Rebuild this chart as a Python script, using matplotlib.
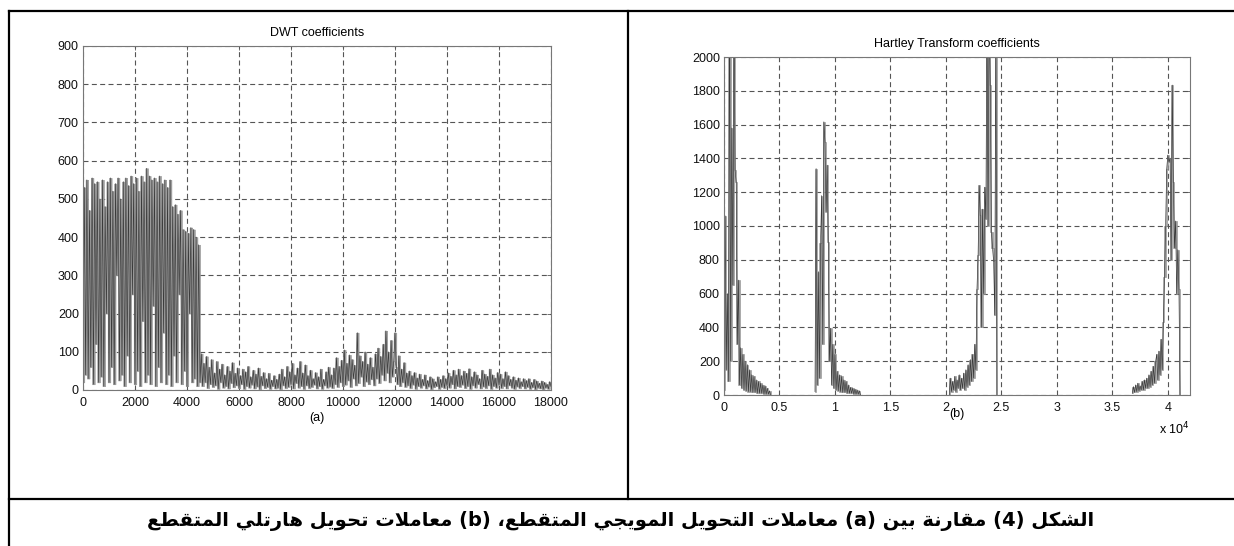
import numpy as np
import matplotlib.pyplot as plt
from matplotlib.lines import Line2D

# ---- data ----
# DWT coefficients, 0..4500 every 50 samples (alternating spike tops / bottoms)
dwt_head = [20, 530, 40, 550, 30, 470, 60, 555, 15, 540,
            120, 545, 20, 500, 35, 550, 10, 480, 200, 545,
            20, 555, 60, 520, 15, 540, 300, 555, 25, 500,
            40, 545, 10, 555, 90, 535, 20, 560, 250, 540,
            15, 555, 50, 520, 10, 560, 180, 545, 20, 580,
            40, 560, 15, 550, 220, 555, 10, 545, 60, 560,
            20, 540, 150, 550, 15, 530, 40, 550, 10, 480,
            90, 485, 20, 460, 250, 470, 15, 420, 50, 415,
            10, 410, 200, 425, 20, 420, 30, 400, 10, 380,
            20]
# DWT coefficients, 4550..18000 every 50 samples
dwt_tail = [95, 10, 70, 20, 88, 5, 60, 15, 80, 8,
            45, 12, 75, 3, 55, 20, 68, 6, 40, 10,
            62, 4, 50, 18, 72, 7, 44, 12, 58, 5,
            38, 15, 55, 3, 48, 10, 62, 6, 35, 14,
            52, 4, 42, 9, 58, 2, 36, 12, 46, 5,
            30, 8, 44, 3, 26, 10, 38, 4, 28, 6,
            42, 2, 55, 12, 35, 5, 62, 8, 48, 15,
            70, 4, 40, 18, 58, 6, 75, 10, 45, 3,
            66, 12, 38, 5, 52, 8, 30, 14, 46, 4,
            35, 10, 55, 3, 28, 12, 48, 6, 60, 9,
            40, 5, 58, 15, 85, 8, 62, 20, 78, 10,
            105, 14, 70, 25, 92, 8, 80, 30, 65, 12,
            150, 18, 90, 35, 75, 10, 100, 22, 68, 15,
            85, 28, 60, 12, 95, 30, 110, 18, 88, 40,
            120, 25, 155, 45, 100, 20, 130, 35, 75, 150,
            60, 15, 90, 10, 55, 20, 72, 8, 45, 12,
            50, 5, 38, 14, 46, 3, 32, 10, 42, 6,
            28, 12, 40, 4, 25, 9, 35, 2, 30, 7,
            22, 10, 35, 3, 28, 8, 38, 5, 30, 12,
            45, 6, 36, 15, 52, 4, 40, 10, 55, 8,
            38, 14, 50, 5, 44, 10, 56, 3, 35, 12,
            48, 6, 40, 15, 30, 4, 52, 9, 42, 5,
            36, 12, 55, 3, 40, 10, 32, 6, 46, 14,
            42, 5, 30, 10, 48, 4, 38, 12, 28, 6,
            35, 3, 26, 9, 32, 5, 22, 10, 30, 4,
            25, 8, 30, 3, 20, 7, 28, 2, 24, 6,
            18, 4, 24, 2, 20, 6, 15, 3, 22, 10]

# Hartley transform coefficients: four clusters, every 100 samples
hart_starts = [0, 8200, 20300, 36800]
hart_c1 = [30, 1060, 150, 600, 80, 2400, 200, 1580, 650, 2300,
           1330, 1260, 300, 680, 60, 280, 40, 240, 30, 200,
           25, 180, 20, 150, 20, 120, 15, 110, 15, 90,
           10, 80, 10, 70, 10, 60, 5, 55, 5, 40,
           5, 25, 0]
hart_c2 = [20, 1340, 60, 730, 100, 900, 1180, 300, 1617, 1500,
           1085, 1360, 907, 200, 395, 60, 300, 40, 240, 30,
           140, 25, 120, 20, 110, 15, 90, 15, 80, 10,
           60, 10, 45, 10, 40, 5, 35, 5, 30, 5,
           25, 0]
hart_c3 = [0, 100, 20, 80, 30, 110, 20, 90, 40, 120,
           30, 100, 40, 130, 30, 150, 50, 180, 60, 210,
           80, 240, 100, 300, 150, 630, 830, 1240, 1065, 400,
           1100, 600, 1230, 1040, 2300, 1000, 2300, 1834, 966, 870,
           790, 473, 2200, 0]
hart_c4 = [10, 50, 15, 60, 20, 70, 25, 55, 30, 80,
           30, 90, 40, 100, 40, 120, 50, 140, 60, 170,
           70, 200, 240, 90, 260, 120, 330, 150, 430, 700,
           1000, 1340, 1420, 1380, 1400, 800, 1834, 1260, 870, 1030,
           600, 860, 630, 0]
hart_ticks = [0, 5000, 10000, 15000, 20000, 25000, 30000, 35000, 40000]
hart_tick_labels = ['0', '0.5', '1', '1.5', '2', '2.5', '3', '3.5', '4']

caption = 'الشكل (4) مقارنة بين (a) معاملات التحويل المويجي المتقطع، (b) معاملات تحويل هارتلي المتقطع'

# ---- simple Arabic shaping (matplotlib has no complex text layout) ----
FORMS = {
    'ا': ('\uFE8D', '\uFE8E', None, None),
    'ب': ('\uFE8F', '\uFE90', '\uFE91', '\uFE92'),
    'ة': ('\uFE93', '\uFE94', None, None),
    'ت': ('\uFE95', '\uFE96', '\uFE97', '\uFE98'),
    'ج': ('\uFE9D', '\uFE9E', '\uFE9F', '\uFEA0'),
    'ح': ('\uFEA1', '\uFEA2', '\uFEA3', '\uFEA4'),
    'ر': ('\uFEAD', '\uFEAE', None, None),
    'ش': ('\uFEB5', '\uFEB6', '\uFEB7', '\uFEB8'),
    'ط': ('\uFEC1', '\uFEC2', '\uFEC3', '\uFEC4'),
    'ع': ('\uFEC9', '\uFECA', '\uFECB', '\uFECC'),
    'ق': ('\uFED5', '\uFED6', '\uFED7', '\uFED8'),
    'ك': ('\uFED9', '\uFEDA', '\uFEDB', '\uFEDC'),
    'ل': ('\uFEDD', '\uFEDE', '\uFEDF', '\uFEE0'),
    'م': ('\uFEE1', '\uFEE2', '\uFEE3', '\uFEE4'),
    'ن': ('\uFEE5', '\uFEE6', '\uFEE7', '\uFEE8'),
    'ه': ('\uFEE9', '\uFEEA', '\uFEEB', '\uFEEC'),
    'و': ('\uFEED', '\uFEEE', None, None),
    'ي': ('\uFEF1', '\uFEF2', '\uFEF3', '\uFEF4'),
    'LA': ('\uFEFB', '\uFEFC', None, None),
}


def shape_word(word):
    chars = []
    i = 0
    while i < len(word):
        if word[i] == 'ل' and i + 1 < len(word) and word[i + 1] == 'ا':
            chars.append('LA')
            i += 2
        else:
            chars.append(word[i])
            i += 1
    out = []
    for k, c in enumerate(chars):
        if c not in FORMS:
            out.append(c)
            continue
        prev = chars[k - 1] if k > 0 else None
        nxt = chars[k + 1] if k + 1 < len(chars) else None
        join_prev = prev in FORMS and FORMS[prev][2] is not None
        join_next = nxt in FORMS and FORMS[c][2] is not None
        iso, fin, ini, med = FORMS[c]
        if join_prev and join_next:
            out.append(med)
        elif join_prev:
            out.append(fin)
        elif join_next:
            out.append(ini)
        else:
            out.append(iso)
    return ''.join(reversed(out))


def visual_rtl(text):
    words = []
    for w in text.split(' '):
        if any(ch in FORMS for ch in w):
            words.append(shape_word(w))
        else:
            words.append(w)
    return ' '.join(reversed(words))


def dense_signal(ax, x, y):
    # gray band = vertical extent of each line segment, dark line on top
    y = np.asarray(y, float)
    lo = np.minimum(y, np.append(y[1:], y[-1]))
    hi = np.maximum(y, np.append(y[1:], y[-1]))
    ax.fill_between(x, lo, hi, step='post', color='#9c9c9c', linewidth=0.4,
                    edgecolor='#909090', zorder=2)
    ax.plot(x, y, color='#3a3a3a', linewidth=0.45, zorder=3)


# ---- figure ----
plt.rcParams['font.family'] = ['Liberation Sans', 'DejaVu Sans']
W, H = 1234, 546
fig = plt.figure(figsize=(W / 100, H / 100), dpi=100)


def box(l, t, r, b):
    return [l / W, 1 - b / H, (r - l) / W, (b - t) / H]


def matlab_style(ax):
    ax.grid(True, color='#555555', linestyle=(0, (4.5, 3)), linewidth=0.8)
    ax.set_axisbelow(True)
    for s in ax.spines.values():
        s.set_color('#777777')
        s.set_linewidth(0.8)
        s.set_zorder(4)
    ax.tick_params(direction='in', length=3, width=0.6, color='#555555',
                   top=True, right=True, labelsize=9, labelcolor='#111111')
    ax.tick_params(axis='x', pad=5)
    ax.tick_params(axis='y', pad=3)


ax1 = fig.add_axes(box(83, 46, 551, 390))
x_head = 50 * np.arange(len(dwt_head))
x_tail = 4550 + 50 * np.arange(len(dwt_tail))
dense_signal(ax1, np.concatenate([x_head, x_tail]), dwt_head + dwt_tail)
ax1.set_xlim(0, 18000)
ax1.set_ylim(0, 900)
ax1.set_xticks(np.arange(0, 18001, 2000))
ax1.set_yticks(np.arange(0, 901, 100))
ax1.set_title('DWT coefficients', fontsize=9, pad=7)
matlab_style(ax1)

ax2 = fig.add_axes(box(724, 57, 1190, 395))
for start, vals in zip(hart_starts, [hart_c1, hart_c2, hart_c3, hart_c4]):
    xs = start + 100 * np.arange(len(vals))
    dense_signal(ax2, xs, vals)
ax2.set_xlim(0, 42000)
ax2.set_ylim(0, 2000)
ax2.set_xticks(hart_ticks)
ax2.set_xticklabels(hart_tick_labels)
ax2.set_yticks(np.arange(0, 2001, 200))
ax2.set_title('Hartley Transform coefficients', fontsize=9, pad=7)
matlab_style(ax2)

fig.text(317 / W, 1 - 418 / H, '(a)', ha='center', va='center', fontsize=9)
fig.text(957 / W, 1 - 414 / H, '(b)', ha='center', va='center', fontsize=9)
fig.text(1174 / W, 1 - 429 / H, r'x 10$^{4}$', ha='center', va='center', fontsize=9)

# table borders around the two panels
def fig_line(x0, y0, x1, y1):
    fig.add_artist(Line2D([x0 / W, x1 / W], [1 - y0 / H, 1 - y1 / H],
                          transform=fig.transFigure, color='black', linewidth=1.6))

fig_line(9, 11, 1234, 11)
fig_line(9, 11, 9, 546)
fig_line(628, 11, 628, 499)
fig_line(9, 499, 1234, 499)

fig.text(621 / W, 1 - 521 / H, visual_rtl(caption), ha='center', va='center',
         fontsize=14, fontweight='bold', family=['DejaVu Sans'])

fig.savefig('out.png', dpi=100)
